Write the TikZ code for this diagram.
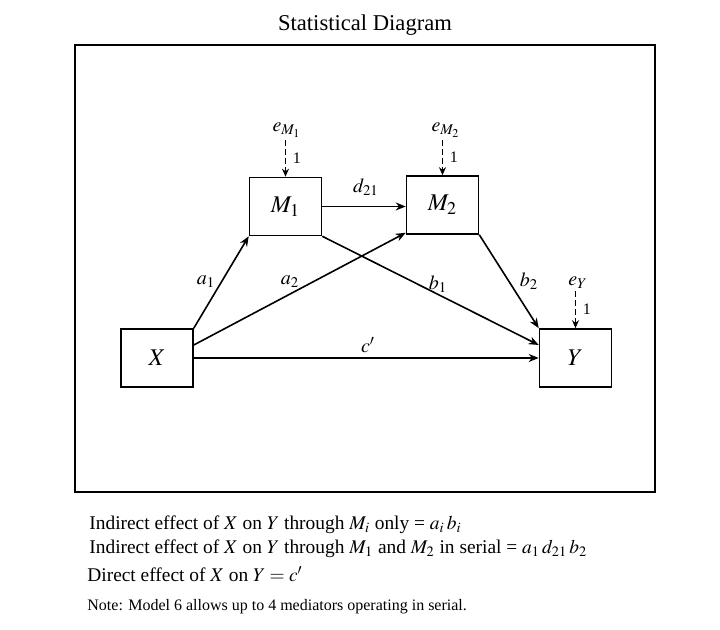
\documentclass[tikz,border=0pt]{standalone}
\usepackage{mathptmx}
\usepackage{fontspec}
\setmainfont{Liberation Serif}
\usetikzlibrary{arrows.meta}
\tikzset{
  varbox/.style={draw,thick,fill=white,minimum width=36pt,minimum height=29pt,inner sep=0pt,font=\large},
  path/.style={thick,-{Stealth[length=5pt,width=4pt]}},
  errpath/.style={thick,dash pattern=on 3pt off 1.5pt,-{Stealth[length=4pt,width=3.5pt]}},
  lbl/.style={inner sep=1pt,font=\normalsize},
  effect/.style={anchor=west,inner sep=0pt,font=\fontsize{9.7}{12}\selectfont}
}
\begin{document}
\begin{tikzpicture}[x=0.5pt,y=0.5pt]
    \useasboundingbox (0,0) rectangle (720,630);
    % Title and frame
    \node[font=\fontsize{11.3}{13}\selectfont] (title) at (365,605) {Statistical Diagram};
    \draw[thick] (75,138) rectangle (655,585);

    % Variables
    \node[varbox] (X) at (157,272) {$X$};
    \node[varbox] (M1) at (285.5,423.5) {$M_1$};
    \node[varbox] (M2) at (442.5,425) {$M_2$};
    \node[varbox] (Y) at (575.5,272) {$Y$};

    % Error terms
    \node[lbl] (eM1) at (287,500) {$e_{M_1}$};
    \node[lbl] (eM2) at (446,500) {$e_{M_2}$};
    \node[lbl] (eY) at (578,347) {$e_Y$};
    \draw[errpath] (eM1.south -| M1.north) -- node[right,font=\footnotesize] {1} (M1.north);
    \draw[errpath] (eM2.south -| M2.north) -- node[right,font=\footnotesize] {1} (M2.north);
    \draw[errpath] (eY.south -| Y.north) -- node[right,font=\footnotesize] {1} (Y.north);

    % Paths
    \draw[path] (X.north east) -- (M1.south west);
    \draw[path] ([yshift=6.5pt]X.east) -- ([yshift=1pt]M2.south west);
    \draw[path] (X.east) -- (Y.west);
    \draw[path] (M1.east) -- (M1.east -| M2.west);
    \draw[path] (M1.south east) -- ([yshift=6.5pt]Y.west);
    \draw[path] (M2.south east) -- (Y.north west);

    % Path labels
    \node[lbl] (a1) at (206,348) {$a_1$};
    \node[lbl] (a2) at (290,348) {$a_2$};
    \node[lbl] (b1) at (438,346) {$b_1$};
    \node[lbl] (b2) at (529,349) {$b_2$};
    \node[lbl] (c) at (368,285) {$c'$};
    \node[lbl] (d21) at (366,443) {$d_{21}$};

    % Effects
    \node[effect] (effA) at (89,105) {Indirect effect of $X$ on $Y$ through $M_i$ only = $a_i\,b_i$};
    \node[effect] (effB) at (89,81) {Indirect effect of $X$ on $Y$ through $M_1$ and $M_2$ in serial = $a_1\,d_{21}\,b_2$};
    \node[effect] (effC) at (87,56) {Direct effect of $X$ on $Y = c'$};
    \node[anchor=west,inner sep=0pt,font=\footnotesize] (note) at (87,23) {Note: Model 6 allows up to 4 mediators operating in serial.};
\end{tikzpicture}
\end{document}
